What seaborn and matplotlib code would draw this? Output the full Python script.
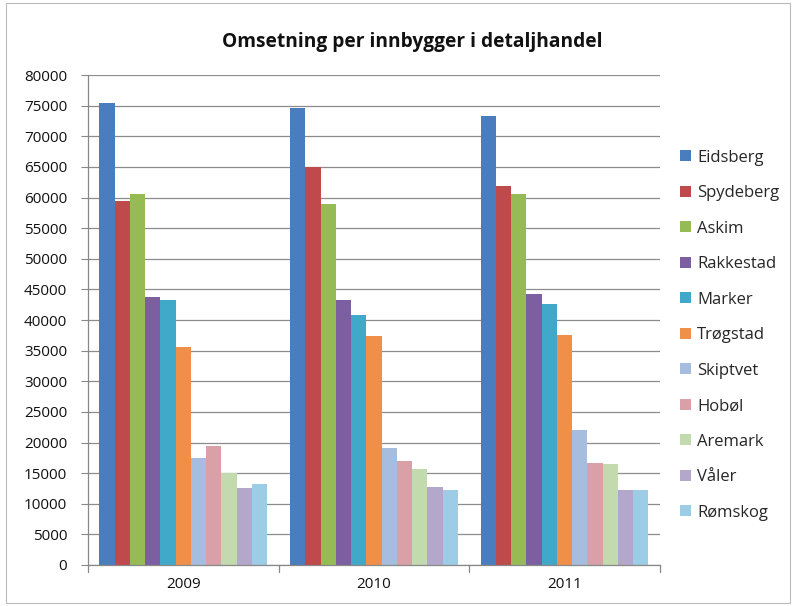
import matplotlib
matplotlib.use("Agg")
import matplotlib.pyplot as plt
import seaborn as sns
import pandas as pd
from matplotlib.patches import Rectangle, Patch

years = ["2009", "2010", "2011"]
kommuner = ["Eidsberg", "Spydeberg", "Askim", "Rakkestad", "Marker", "Trøgstad",
            "Skiptvet", "Hobøl", "Aremark", "Våler", "Rømskog"]
eidsberg = [75500, 74700, 73400]
spydeberg = [59500, 65000, 61900]
askim = [60600, 59000, 60600]
rakkestad = [43700, 43200, 44300]
marker = [43300, 40800, 42600]
trogstad = [35600, 37400, 37500]
skiptvet = [17400, 19100, 22100]
hobol = [19400, 17000, 16700]
aremark = [15100, 15600, 16500]
valer = [12600, 12800, 12300]
romskog = [13200, 12300, 12300]
yticks = list(range(0, 80001, 5000))

colors = ["#4A7DBE", "#BE4A4C", "#96BB55", "#7B5FA0", "#40A8C8", "#F08F48",
          "#A7BDE0", "#D9A0A8", "#C3D9AE", "#B4A7CC", "#9DCCE6"]

series = [eidsberg, spydeberg, askim, rakkestad, marker, trogstad,
          skiptvet, hobol, aremark, valer, romskog]
rows = []
for name, vals in zip(kommuner, series):
    for y, v in zip(years, vals):
        rows.append({"År": y, "Kommune": name, "Omsetning": v})
df = pd.DataFrame(rows)

sns.set_theme(style="white")
plt.rcParams["font.family"] = ["Open Sans", "DejaVu Sans"]

fig = plt.figure(figsize=(7.96, 6.06), dpi=100)
ax = fig.add_axes([0.1106, 0.0677, 0.829 - 0.1106, 0.876 - 0.0677])

sns.barplot(data=df, x="År", y="Omsetning", hue="Kommune", order=years,
            hue_order=kommuner, palette=colors, width=0.88, saturation=1,
            ax=ax, legend=False, linewidth=0)

ax.set_ylim(0, 80000)
ax.set_yticks(yticks)
ax.set_yticklabels([str(t) for t in yticks], fontsize=11, color="#111111")
ax.tick_params(axis="x", labelsize=11, colors="#111111", length=0, pad=9)
ax.tick_params(axis="y", length=5, color="#888888", width=0.8, direction="out", left=True, pad=10)
ax.set_xlabel("")
ax.set_ylabel("")
ax.yaxis.grid(True, color="#8c8c8c", linewidth=0.9)
ax.set_axisbelow(True)
for s in ["top", "right"]:
    ax.spines[s].set_visible(False)
for s in ["left", "bottom"]:
    ax.spines[s].set_color("#888888")
    ax.spines[s].set_linewidth(0.9)
ax.set_xlim(-0.5, 2.5)
for xb in [-0.5, 0.5, 1.5, 2.5]:
    ax.plot([xb, xb], [0, -1200], color="#888888", linewidth=0.9, clip_on=False)

fig.text(0.518, 0.930, "Omsetning per innbygger i detaljhandel", ha="center",
         va="center", fontsize=13.8, fontweight="bold", color="#111111")

handles = [Patch(facecolor=c, edgecolor="none") for c in colors]
leg = fig.legend(handles, kommuner, loc="center left", bbox_to_anchor=(0.836, 0.447),
                 frameon=False, fontsize=12, handlelength=0.65, handleheight=0.65,
                 handletextpad=0.35, labelspacing=1.17)

fig.patches.append(Rectangle((0.008, 0.005), 0.985, 0.99, transform=fig.transFigure,
                             fill=False, edgecolor="#bbbbbb", linewidth=0.8))

fig.savefig("out.png", dpi=100, facecolor="white")
